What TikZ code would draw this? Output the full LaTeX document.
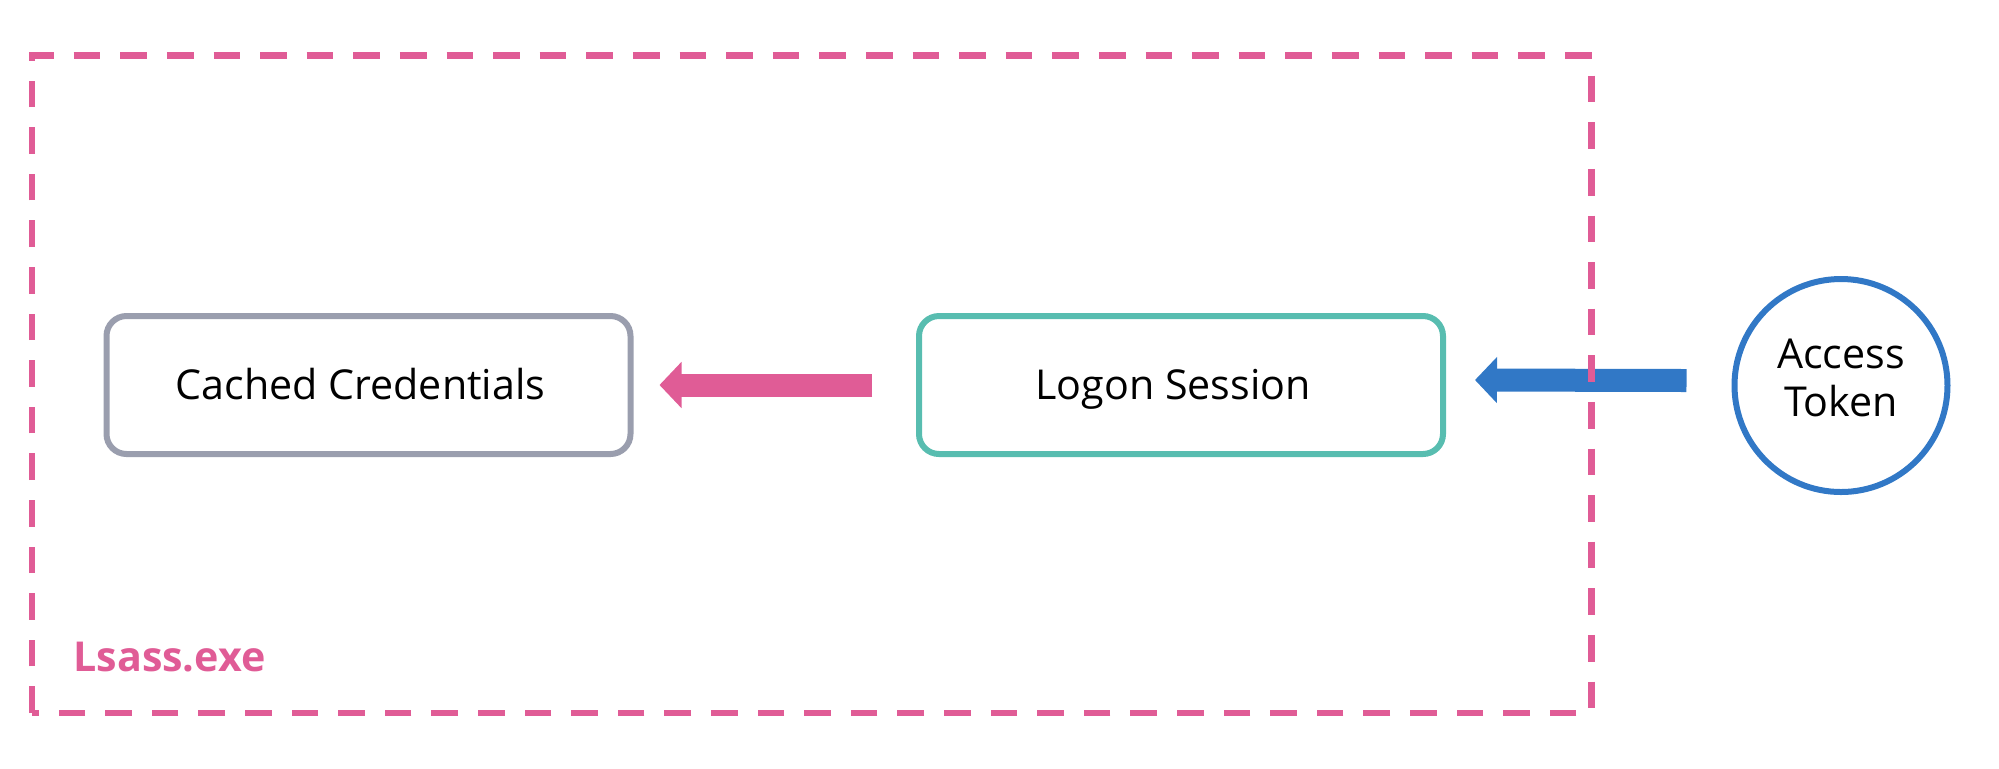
\documentclass[tikz,border=0pt]{standalone}
\usepackage{fontspec}
\setmainfont{Open Sans}
\usetikzlibrary{arrows.meta}
\definecolor{lsasspink}{HTML}{E05C96}
\definecolor{tokenblue}{HTML}{3178C6}
\definecolor{sessionteal}{HTML}{58BDB0}
\definecolor{credgrey}{HTML}{9A9EAE}

\begin{document}
\begin{tikzpicture}[
    x=0.5pt, y=-0.5pt,
    every node/.style={font=\fontsize{20.6pt}{24pt}\selectfont},
    box/.style={draw, rounded corners=10pt, line width=3pt, minimum width=262pt, minimum height=69pt, text height=14.7pt, text depth=0pt, execute at end node=\hspace*{8pt}},
    token/.style={circle, draw=tokenblue, line width=3pt, minimum size=106.5pt, align=center, text depth=8pt},
    fatarrow/.style={line width=11.5pt, -{Triangle[length=11pt,width=22.5pt]}},
]
\useasboundingbox (0,0) rectangle (1999,768);

% Boxes and token
\node[box, draw=credgrey] (cached) at (368.5,385) {Cached Credentials};
\node[box, draw=sessionteal] (session) at (1181,385) {Logon Session};
\node[token] (token) at (1841,385.5) {Access\\Token};

% Arrows
\draw[fatarrow, lsasspink] ([xshift=-22pt]session.west) -- ([xshift=13pt]cached.east);
\draw[fatarrow, tokenblue] ([xshift=-22.5pt, yshift=2.5pt]token.west) -- ([xshift=14.5pt, yshift=2.5pt]session.east);

% Lsass.exe process
\draw[lsasspink, line width=3.3pt, dash pattern=on 13.3pt off 10pt] (32,713) rectangle (1591.5,55.7);
\node[lsasspink, font=\fontsize{20.6pt}{24pt}\selectfont\bfseries, anchor=base west, inner sep=0pt] (lsass) at (73,671) {Lsass.exe};

\end{tikzpicture}
\end{document}
